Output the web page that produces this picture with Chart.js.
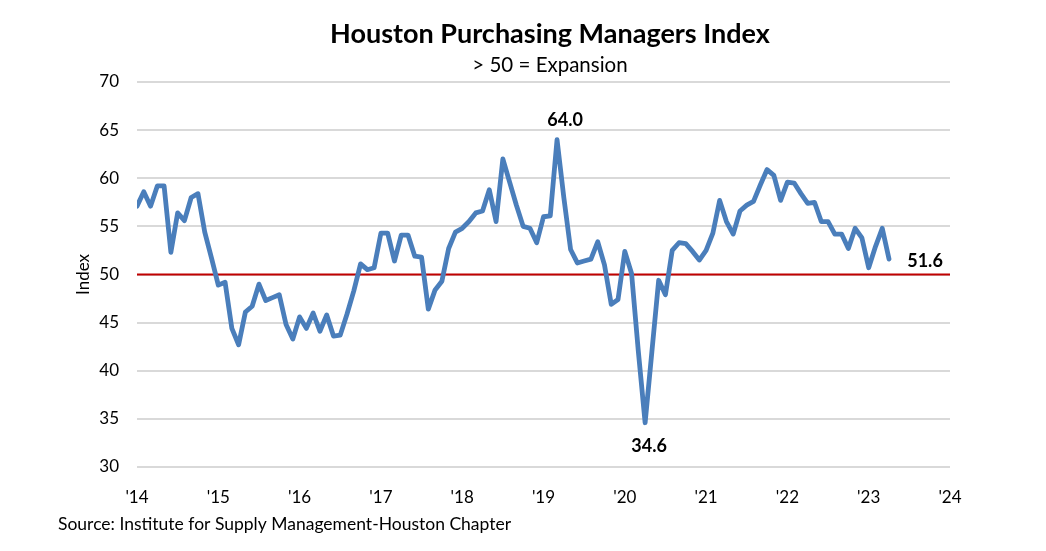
<!DOCTYPE html>
<html>
<head>
<meta charset="utf-8">
<script src="https://cdn.jsdelivr.net/npm/chart.js@4.4.0/dist/chart.umd.min.js"></script>
<style>
  html, body { margin: 0; padding: 0; background: #fff; }
  #wrap { width: 1046px; height: 551px; position: relative; }
</style>
</head>
<body>
<div id="wrap"><canvas id="pmiChart" width="1046" height="551"></canvas></div>
<script>
// monthly index, Jan 2014 .. Apr 2023
const pmi = [
  57.1, 58.6, 57.1, 59.2, 59.2, 52.3, 56.4, 55.6, 58.0, 58.4, 54.4, 51.7,   // 2014
  48.9, 49.2, 44.4, 42.7, 46.1, 46.7, 49.0, 47.3, 47.6, 47.9, 44.8, 43.3,   // 2015
  45.6, 44.4, 46.0, 44.1, 45.8, 43.6, 43.7, 45.9, 48.3, 51.1, 50.5, 50.7,   // 2016
  54.3, 54.3, 51.4, 54.1, 54.1, 51.9, 51.8, 46.4, 48.4, 49.3, 52.7, 54.4,   // 2017
  54.8, 55.5, 56.4, 56.6, 58.8, 55.5, 62.0, 59.6, 57.2, 55.0, 54.8, 53.3,   // 2018
  56.0, 56.1, 64.0, 58.0, 52.6, 51.2, 51.4, 51.6, 53.4, 51.0, 46.9, 47.4,   // 2019
  52.4, 50.1, 42.0, 34.6, 42.0, 49.4, 47.9, 52.5, 53.3, 53.2, 52.4, 51.5,   // 2020
  52.5, 54.3, 57.7, 55.5, 54.2, 56.6, 57.2, 57.6, 59.3, 60.9, 60.3, 57.7,   // 2021
  59.6, 59.5, 58.4, 57.4, 57.5, 55.5, 55.5, 54.2, 54.2, 52.7, 54.8, 53.8,   // 2022
  50.7, 52.9, 54.8, 51.6                                                    // 2023
];
const yearTicks = ["'14", "'15", "'16", "'17", "'18", "'19", "'20", "'21", "'22", "'23", "'24"];
const expansionLevel = 50;
const calloutMonths = [62, 75, 111];   // peak, trough, latest

const FONT = 'Lato, "Open Sans", sans-serif';

const textPlugin = {
  id: 'texts',
  afterDraw(chart) {
    const ctx = chart.ctx;
    const xs = chart.scales.x, ys = chart.scales.y;
    ctx.save();
    ctx.fillStyle = '#000';
    ctx.textAlign = 'center';
    ctx.textBaseline = 'middle';
    ctx.font = 'bold 27px ' + FONT;
    ctx.fillText('Houston Purchasing Managers Index', 550, 34);
    ctx.font = '20.5px ' + FONT;
    ctx.fillText('> 50 = Expansion', 550, 65);

    ctx.textAlign = 'left';
    ctx.font = '17.5px ' + FONT;
    ctx.fillText('Source: Institute for Supply Management-Houston Chapter', 58, 524);

    // value callouts
    ctx.font = 'bold 18px ' + FONT;
    ctx.textAlign = 'center';
    const offs = [[8, -20], [4, 23], [36, 2]];
    calloutMonths.forEach((m, i) => {
      const px = xs.getPixelForValue(m);
      const py = ys.getPixelForValue(pmi[m]);
      ctx.fillText(pmi[m].toFixed(1), px + offs[i][0], py + offs[i][1]);
    });
    ctx.restore();
  }
};

new Chart(document.getElementById('pmiChart').getContext('2d'), {
  type: 'line',
  data: {
    datasets: [
      {
        data: pmi.map((v, i) => ({ x: i, y: v })),
        borderColor: '#4A7EBB',
        borderWidth: 4.8,
        pointRadius: 0,
        tension: 0,
        borderJoinStyle: 'round',
        borderCapStyle: 'round'
      },
      {
        data: [{ x: 0, y: expansionLevel }, { x: 120, y: expansionLevel }],
        borderColor: '#C00000',
        borderWidth: 2,
        pointRadius: 0
      }
    ]
  },
  options: {
    responsive: false,
    animation: false,
    layout: { padding: { top: 82, right: 96, bottom: 0, left: 0 } },
    plugins: { legend: { display: false }, tooltip: { enabled: false } },
    scales: {
      x: {
        type: 'linear',
        min: 0,
        max: 120,
        grid: { display: false },
        border: { display: false },
        ticks: {
          stepSize: 12,
          autoSkip: false,
          maxRotation: 0,
          padding: 12,
          color: '#000',
          font: { family: FONT, size: 17 },
          callback: v => yearTicks[v / 12]
        },
        afterFit: s => { s.height = 84; }
      },
      y: {
        min: 30,
        max: 70,
        grid: { color: '#D9D9D9', lineWidth: 2, drawTicks: false },
        border: { display: false },
        ticks: {
          stepSize: 5,
          padding: 18,
          color: '#000',
          font: { family: FONT, size: 17 }
        },
        title: {
          display: true,
          text: 'Index',
          color: '#000',
          font: { family: FONT, size: 17 },
          padding: { top: 73, bottom: 0 }
        },
        afterFit: s => { s.width = 137; }
      }
    }
  },
  plugins: [textPlugin]
});
</script>
</body>
</html>
